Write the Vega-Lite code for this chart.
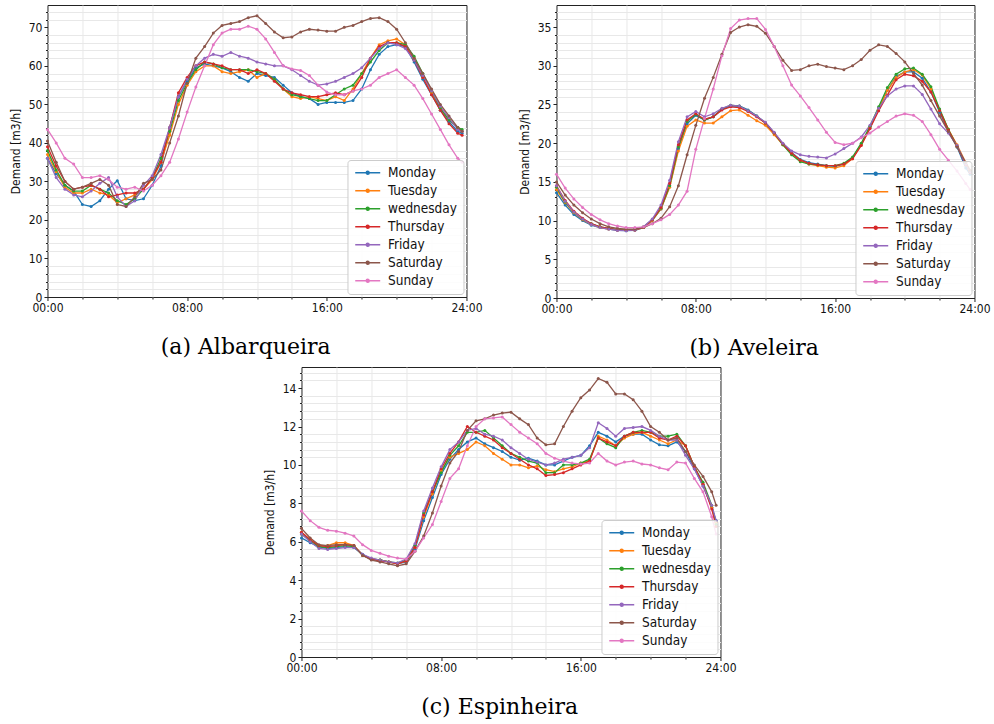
{
"$schema": "https://vega.github.io/schema/vega-lite/v6.json",
"padding": {"left": 8, "top": 4, "right": 2, "bottom": 2},
"config": {
  "font": "DejaVu Sans Condensed, DejaVu Sans, sans-serif",
  "view": {"stroke": "#222222", "strokeWidth": 1},
  "axis": {"domain": false, "labelFontSize": 12, "labelColor": "#111111", "tickColor": "#222222", "titleFontSize": 12, "titleFontWeight": "normal", "titleColor": "#111111", "gridColor": "#9c9c9c", "gridWidth": 1, "labelFlush": false, "labelOverlap": false, "labelPadding": 2, "tickSize": 3.5, "titlePadding": 6},
  "legend": {"orient": "bottom-right", "offset": 3, "padding": 6, "fillColor": "rgba(255,255,255,0.85)", "strokeColor": "#cccccc", "cornerRadius": 3, "labelFontSize": 13.5, "labelColor": "#111111", "rowPadding": 3, "symbolType": "M-1,0H4M1.2,0A0.3,0.3,0,1,0,1.8,0A0.3,0.3,0,1,0,1.2,0", "symbolSize": 100, "symbolStrokeWidth": 1.5, "labelOffset": 21},
  "title": {"font": "DejaVu Serif", "fontSize": 22, "fontWeight": "normal", "color": "#000000", "orient": "bottom", "offset": 23, "frame": "bounds"}
},
"datasets": {
"a": [
{"d":"Monday","t":0,"v":36},{"d":"Monday","t":0.5,"v":32},{"d":"Monday","t":1,"v":29},{"d":"Monday","t":1.5,"v":27.5},{"d":"Monday","t":2,"v":24},{"d":"Monday","t":2.5,"v":23.5},{"d":"Monday","t":3,"v":25},{"d":"Monday","t":3.5,"v":28},{"d":"Monday","t":4,"v":30.2},{"d":"Monday","t":4.5,"v":25.5},
{"d":"Monday","t":5,"v":25},{"d":"Monday","t":5.5,"v":25.5},{"d":"Monday","t":6,"v":29},{"d":"Monday","t":6.5,"v":34},{"d":"Monday","t":7,"v":44},{"d":"Monday","t":7.5,"v":52},{"d":"Monday","t":8,"v":56},{"d":"Monday","t":8.5,"v":59.5},{"d":"Monday","t":9,"v":60.5},{"d":"Monday","t":9.5,"v":60},
{"d":"Monday","t":10,"v":59.5},{"d":"Monday","t":10.5,"v":58.5},{"d":"Monday","t":11,"v":57},{"d":"Monday","t":11.5,"v":56},{"d":"Monday","t":12,"v":58},{"d":"Monday","t":12.5,"v":57.5},{"d":"Monday","t":13,"v":57},{"d":"Monday","t":13.5,"v":55},{"d":"Monday","t":14,"v":53},{"d":"Monday","t":14.5,"v":52},
{"d":"Monday","t":15,"v":51.5},{"d":"Monday","t":15.5,"v":50},{"d":"Monday","t":16,"v":50.5},{"d":"Monday","t":16.5,"v":50.5},{"d":"Monday","t":17,"v":50.5},{"d":"Monday","t":17.5,"v":51},{"d":"Monday","t":18,"v":54},{"d":"Monday","t":18.5,"v":59},{"d":"Monday","t":19,"v":63},{"d":"Monday","t":19.5,"v":65},
{"d":"Monday","t":20,"v":65.5},{"d":"Monday","t":20.5,"v":65},{"d":"Monday","t":21,"v":61},{"d":"Monday","t":21.5,"v":56.5},{"d":"Monday","t":22,"v":52.5},{"d":"Monday","t":22.5,"v":48.5},{"d":"Monday","t":23,"v":45.5},{"d":"Monday","t":23.5,"v":43},{"d":"Monday","t":23.75,"v":42.5},
{"d":"Tuesday","t":0,"v":37},{"d":"Tuesday","t":0.5,"v":32.5},{"d":"Tuesday","t":1,"v":28.5},{"d":"Tuesday","t":1.5,"v":27},{"d":"Tuesday","t":2,"v":27},{"d":"Tuesday","t":2.5,"v":28},{"d":"Tuesday","t":3,"v":27},{"d":"Tuesday","t":3.5,"v":26.5},{"d":"Tuesday","t":4,"v":24.5},{"d":"Tuesday","t":4.5,"v":25.5},
{"d":"Tuesday","t":5,"v":26.5},{"d":"Tuesday","t":5.5,"v":28},{"d":"Tuesday","t":6,"v":30.5},{"d":"Tuesday","t":6.5,"v":35},{"d":"Tuesday","t":7,"v":42},{"d":"Tuesday","t":7.5,"v":50},{"d":"Tuesday","t":8,"v":55},{"d":"Tuesday","t":8.5,"v":58.5},{"d":"Tuesday","t":9,"v":60},{"d":"Tuesday","t":9.5,"v":60},
{"d":"Tuesday","t":10,"v":58.5},{"d":"Tuesday","t":10.5,"v":58},{"d":"Tuesday","t":11,"v":58.5},{"d":"Tuesday","t":11.5,"v":59},{"d":"Tuesday","t":12,"v":57},{"d":"Tuesday","t":12.5,"v":58},{"d":"Tuesday","t":13,"v":56.5},{"d":"Tuesday","t":13.5,"v":54},{"d":"Tuesday","t":14,"v":52},{"d":"Tuesday","t":14.5,"v":51.5},
{"d":"Tuesday","t":15,"v":52},{"d":"Tuesday","t":15.5,"v":51.5},{"d":"Tuesday","t":16,"v":51},{"d":"Tuesday","t":16.5,"v":52},{"d":"Tuesday","t":17,"v":51},{"d":"Tuesday","t":17.5,"v":54},{"d":"Tuesday","t":18,"v":58},{"d":"Tuesday","t":18.5,"v":62},{"d":"Tuesday","t":19,"v":65.5},{"d":"Tuesday","t":19.5,"v":66.5},
{"d":"Tuesday","t":20,"v":67},{"d":"Tuesday","t":20.5,"v":65.5},{"d":"Tuesday","t":21,"v":62},{"d":"Tuesday","t":21.5,"v":57},{"d":"Tuesday","t":22,"v":53},{"d":"Tuesday","t":22.5,"v":49},{"d":"Tuesday","t":23,"v":46},{"d":"Tuesday","t":23.5,"v":44},{"d":"Tuesday","t":23.75,"v":43},
{"d":"wednesday","t":0,"v":38},{"d":"wednesday","t":0.5,"v":33},{"d":"wednesday","t":1,"v":29},{"d":"wednesday","t":1.5,"v":27.5},{"d":"wednesday","t":2,"v":27.5},{"d":"wednesday","t":2.5,"v":29},{"d":"wednesday","t":3,"v":28},{"d":"wednesday","t":3.5,"v":27},{"d":"wednesday","t":4,"v":25},{"d":"wednesday","t":4.5,"v":24},
{"d":"wednesday","t":5,"v":25.5},{"d":"wednesday","t":5.5,"v":28},{"d":"wednesday","t":6,"v":31},{"d":"wednesday","t":6.5,"v":36},{"d":"wednesday","t":7,"v":43},{"d":"wednesday","t":7.5,"v":51},{"d":"wednesday","t":8,"v":55.5},{"d":"wednesday","t":8.5,"v":59},{"d":"wednesday","t":9,"v":61},{"d":"wednesday","t":9.5,"v":60.5},
{"d":"wednesday","t":10,"v":59.5},{"d":"wednesday","t":10.5,"v":59},{"d":"wednesday","t":11,"v":59},{"d":"wednesday","t":11.5,"v":59},{"d":"wednesday","t":12,"v":58.5},{"d":"wednesday","t":12.5,"v":58},{"d":"wednesday","t":13,"v":56.5},{"d":"wednesday","t":13.5,"v":54},{"d":"wednesday","t":14,"v":52.5},{"d":"wednesday","t":14.5,"v":52},
{"d":"wednesday","t":15,"v":51.5},{"d":"wednesday","t":15.5,"v":51},{"d":"wednesday","t":16,"v":51},{"d":"wednesday","t":16.5,"v":52.5},{"d":"wednesday","t":17,"v":54},{"d":"wednesday","t":17.5,"v":55},{"d":"wednesday","t":18,"v":58},{"d":"wednesday","t":18.5,"v":61},{"d":"wednesday","t":19,"v":64},{"d":"wednesday","t":19.5,"v":66},
{"d":"wednesday","t":20,"v":66},{"d":"wednesday","t":20.5,"v":65.5},{"d":"wednesday","t":21,"v":62.5},{"d":"wednesday","t":21.5,"v":58},{"d":"wednesday","t":22,"v":53.5},{"d":"wednesday","t":22.5,"v":49},{"d":"wednesday","t":23,"v":46},{"d":"wednesday","t":23.5,"v":44},{"d":"wednesday","t":23.75,"v":43.5},
{"d":"Thursday","t":0,"v":39},{"d":"Thursday","t":0.5,"v":34},{"d":"Thursday","t":1,"v":30},{"d":"Thursday","t":1.5,"v":28},{"d":"Thursday","t":2,"v":28.5},{"d":"Thursday","t":2.5,"v":29},{"d":"Thursday","t":3,"v":28},{"d":"Thursday","t":3.5,"v":26},{"d":"Thursday","t":4,"v":26.5},{"d":"Thursday","t":4.5,"v":27},
{"d":"Thursday","t":5,"v":27},{"d":"Thursday","t":5.5,"v":28},{"d":"Thursday","t":6,"v":31},{"d":"Thursday","t":6.5,"v":35},{"d":"Thursday","t":7,"v":44},{"d":"Thursday","t":7.5,"v":53},{"d":"Thursday","t":8,"v":57},{"d":"Thursday","t":8.5,"v":60},{"d":"Thursday","t":9,"v":61},{"d":"Thursday","t":9.5,"v":60.5},
{"d":"Thursday","t":10,"v":60},{"d":"Thursday","t":10.5,"v":59},{"d":"Thursday","t":11,"v":59},{"d":"Thursday","t":11.5,"v":58},{"d":"Thursday","t":12,"v":59},{"d":"Thursday","t":12.5,"v":58},{"d":"Thursday","t":13,"v":56},{"d":"Thursday","t":13.5,"v":54},{"d":"Thursday","t":14,"v":53},{"d":"Thursday","t":14.5,"v":52.5},
{"d":"Thursday","t":15,"v":52},{"d":"Thursday","t":15.5,"v":52},{"d":"Thursday","t":16,"v":52.5},{"d":"Thursday","t":16.5,"v":53},{"d":"Thursday","t":17,"v":52.5},{"d":"Thursday","t":17.5,"v":53.5},{"d":"Thursday","t":18,"v":57},{"d":"Thursday","t":18.5,"v":62},{"d":"Thursday","t":19,"v":65},{"d":"Thursday","t":19.5,"v":66},
{"d":"Thursday","t":20,"v":66},{"d":"Thursday","t":20.5,"v":65},{"d":"Thursday","t":21,"v":61.5},{"d":"Thursday","t":21.5,"v":57},{"d":"Thursday","t":22,"v":52.5},{"d":"Thursday","t":22.5,"v":48.5},{"d":"Thursday","t":23,"v":45},{"d":"Thursday","t":23.5,"v":42.5},{"d":"Thursday","t":23.75,"v":42},
{"d":"Friday","t":0,"v":36},{"d":"Friday","t":0.5,"v":31},{"d":"Friday","t":1,"v":28},{"d":"Friday","t":1.5,"v":26.5},{"d":"Friday","t":2,"v":26},{"d":"Friday","t":2.5,"v":27.5},{"d":"Friday","t":3,"v":29.5},{"d":"Friday","t":3.5,"v":31},{"d":"Friday","t":4,"v":26},{"d":"Friday","t":4.5,"v":23.5},
{"d":"Friday","t":5,"v":25},{"d":"Friday","t":5.5,"v":29},{"d":"Friday","t":6,"v":31.5},{"d":"Friday","t":6.5,"v":37},{"d":"Friday","t":7,"v":44},{"d":"Friday","t":7.5,"v":52},{"d":"Friday","t":8,"v":56.5},{"d":"Friday","t":8.5,"v":60},{"d":"Friday","t":9,"v":62},{"d":"Friday","t":9.5,"v":63},
{"d":"Friday","t":10,"v":62.5},{"d":"Friday","t":10.5,"v":63.5},{"d":"Friday","t":11,"v":62.5},{"d":"Friday","t":11.5,"v":62},{"d":"Friday","t":12,"v":61},{"d":"Friday","t":12.5,"v":60.5},{"d":"Friday","t":13,"v":60},{"d":"Friday","t":13.5,"v":60},{"d":"Friday","t":14,"v":59},{"d":"Friday","t":14.5,"v":57.5},
{"d":"Friday","t":15,"v":56},{"d":"Friday","t":15.5,"v":55},{"d":"Friday","t":16,"v":55.3},{"d":"Friday","t":16.5,"v":56},{"d":"Friday","t":17,"v":57},{"d":"Friday","t":17.5,"v":58},{"d":"Friday","t":18,"v":59.5},{"d":"Friday","t":18.5,"v":62},{"d":"Friday","t":19,"v":64.5},{"d":"Friday","t":19.5,"v":66},
{"d":"Friday","t":20,"v":65.5},{"d":"Friday","t":20.5,"v":64.5},{"d":"Friday","t":21,"v":61.5},{"d":"Friday","t":21.5,"v":57.5},{"d":"Friday","t":22,"v":53.5},{"d":"Friday","t":22.5,"v":49.5},{"d":"Friday","t":23,"v":46.5},{"d":"Friday","t":23.5,"v":43.5},{"d":"Friday","t":23.75,"v":43},
{"d":"Saturday","t":0,"v":40.5},{"d":"Saturday","t":0.5,"v":35},{"d":"Saturday","t":1,"v":30},{"d":"Saturday","t":1.5,"v":28},{"d":"Saturday","t":2,"v":28.5},{"d":"Saturday","t":2.5,"v":29.5},{"d":"Saturday","t":3,"v":30.5},{"d":"Saturday","t":3.5,"v":29},{"d":"Saturday","t":4,"v":24},{"d":"Saturday","t":4.5,"v":23.5},
{"d":"Saturday","t":5,"v":26},{"d":"Saturday","t":5.5,"v":29.5},{"d":"Saturday","t":6,"v":30.5},{"d":"Saturday","t":6.5,"v":33},{"d":"Saturday","t":7,"v":40},{"d":"Saturday","t":7.5,"v":47},{"d":"Saturday","t":8,"v":55.5},{"d":"Saturday","t":8.5,"v":62},{"d":"Saturday","t":9,"v":65},{"d":"Saturday","t":9.5,"v":68.5},
{"d":"Saturday","t":10,"v":70.5},{"d":"Saturday","t":10.5,"v":71},{"d":"Saturday","t":11,"v":71.5},{"d":"Saturday","t":11.5,"v":72.5},{"d":"Saturday","t":12,"v":73},{"d":"Saturday","t":12.5,"v":71},{"d":"Saturday","t":13,"v":68.8},{"d":"Saturday","t":13.5,"v":67.3},{"d":"Saturday","t":14,"v":67.5},{"d":"Saturday","t":14.5,"v":68.8},
{"d":"Saturday","t":15,"v":69.5},{"d":"Saturday","t":15.5,"v":69.3},{"d":"Saturday","t":16,"v":69},{"d":"Saturday","t":16.5,"v":69},{"d":"Saturday","t":17,"v":70},{"d":"Saturday","t":17.5,"v":70.5},{"d":"Saturday","t":18,"v":71.5},{"d":"Saturday","t":18.5,"v":72.3},{"d":"Saturday","t":19,"v":72.5},{"d":"Saturday","t":19.5,"v":71.5},
{"d":"Saturday","t":20,"v":69.5},{"d":"Saturday","t":20.5,"v":66},{"d":"Saturday","t":21,"v":62},{"d":"Saturday","t":21.5,"v":58},{"d":"Saturday","t":22,"v":54},{"d":"Saturday","t":22.5,"v":50},{"d":"Saturday","t":23,"v":47},{"d":"Saturday","t":23.5,"v":44},{"d":"Saturday","t":23.75,"v":43},
{"d":"Sunday","t":0,"v":43.5},{"d":"Sunday","t":0.5,"v":40},{"d":"Sunday","t":1,"v":36},{"d":"Sunday","t":1.5,"v":34.5},{"d":"Sunday","t":2,"v":31},{"d":"Sunday","t":2.5,"v":31},{"d":"Sunday","t":3,"v":31.5},{"d":"Sunday","t":3.5,"v":30.5},{"d":"Sunday","t":4,"v":28.5},{"d":"Sunday","t":4.5,"v":28},
{"d":"Sunday","t":5,"v":28.5},{"d":"Sunday","t":5.5,"v":27.5},{"d":"Sunday","t":6,"v":29},{"d":"Sunday","t":6.5,"v":31.5},{"d":"Sunday","t":7,"v":35},{"d":"Sunday","t":7.5,"v":41},{"d":"Sunday","t":8,"v":48},{"d":"Sunday","t":8.5,"v":54.5},{"d":"Sunday","t":9,"v":60},{"d":"Sunday","t":9.5,"v":65.5},
{"d":"Sunday","t":10,"v":68.5},{"d":"Sunday","t":10.5,"v":69.5},{"d":"Sunday","t":11,"v":69.5},{"d":"Sunday","t":11.5,"v":70.3},{"d":"Sunday","t":12,"v":69.5},{"d":"Sunday","t":12.5,"v":67},{"d":"Sunday","t":13,"v":63.5},{"d":"Sunday","t":13.5,"v":60},{"d":"Sunday","t":14,"v":59.2},{"d":"Sunday","t":14.5,"v":58.8},
{"d":"Sunday","t":15,"v":57.5},{"d":"Sunday","t":15.5,"v":55},{"d":"Sunday","t":16,"v":53.2},{"d":"Sunday","t":16.5,"v":52.5},{"d":"Sunday","t":17,"v":52.5},{"d":"Sunday","t":17.5,"v":53.5},{"d":"Sunday","t":18,"v":54},{"d":"Sunday","t":18.5,"v":55},{"d":"Sunday","t":19,"v":57},{"d":"Sunday","t":19.5,"v":58},
{"d":"Sunday","t":20,"v":59},{"d":"Sunday","t":20.5,"v":57},{"d":"Sunday","t":21,"v":55},{"d":"Sunday","t":21.5,"v":51.5},{"d":"Sunday","t":22,"v":47.5},{"d":"Sunday","t":22.5,"v":43.5},{"d":"Sunday","t":23,"v":39.5},{"d":"Sunday","t":23.5,"v":36},{"d":"Sunday","t":23.75,"v":35}
],
"b": [
{"d":"Monday","t":0,"v":13.6},{"d":"Monday","t":0.5,"v":12},{"d":"Monday","t":1,"v":10.8},{"d":"Monday","t":1.5,"v":10},{"d":"Monday","t":2,"v":9.4},{"d":"Monday","t":2.5,"v":9.1},{"d":"Monday","t":3,"v":8.9},{"d":"Monday","t":3.5,"v":8.75},{"d":"Monday","t":4,"v":8.7},{"d":"Monday","t":4.5,"v":8.75},
{"d":"Monday","t":5,"v":9.1},{"d":"Monday","t":5.5,"v":10},{"d":"Monday","t":6,"v":11.5},{"d":"Monday","t":6.5,"v":14.5},{"d":"Monday","t":7,"v":19.3},{"d":"Monday","t":7.5,"v":22.5},{"d":"Monday","t":8,"v":23.6},{"d":"Monday","t":8.5,"v":23},{"d":"Monday","t":9,"v":23.4},{"d":"Monday","t":9.5,"v":24.4},
{"d":"Monday","t":10,"v":24.8},{"d":"Monday","t":10.5,"v":24.8},{"d":"Monday","t":11,"v":24.3},{"d":"Monday","t":11.5,"v":23.5},{"d":"Monday","t":12,"v":22.6},{"d":"Monday","t":12.5,"v":21.3},{"d":"Monday","t":13,"v":19.9},{"d":"Monday","t":13.5,"v":18.8},{"d":"Monday","t":14,"v":17.9},{"d":"Monday","t":14.5,"v":17.5},
{"d":"Monday","t":15,"v":17.3},{"d":"Monday","t":15.5,"v":17.1},{"d":"Monday","t":16,"v":17},{"d":"Monday","t":16.5,"v":17.3},{"d":"Monday","t":17,"v":18.1},{"d":"Monday","t":17.5,"v":19.9},{"d":"Monday","t":18,"v":22},{"d":"Monday","t":18.5,"v":24.5},{"d":"Monday","t":19,"v":26.8},{"d":"Monday","t":19.5,"v":28.6},
{"d":"Monday","t":20,"v":29.2},{"d":"Monday","t":20.5,"v":29.2},{"d":"Monday","t":21,"v":28.4},{"d":"Monday","t":21.5,"v":26.6},{"d":"Monday","t":22,"v":24},{"d":"Monday","t":22.5,"v":21.5},{"d":"Monday","t":23,"v":19.5},{"d":"Monday","t":23.5,"v":16.8},{"d":"Monday","t":23.75,"v":16},
{"d":"Tuesday","t":0,"v":14},{"d":"Tuesday","t":0.5,"v":12.3},{"d":"Tuesday","t":1,"v":11},{"d":"Tuesday","t":1.5,"v":10.1},{"d":"Tuesday","t":2,"v":9.5},{"d":"Tuesday","t":2.5,"v":9.1},{"d":"Tuesday","t":3,"v":8.9},{"d":"Tuesday","t":3.5,"v":8.8},{"d":"Tuesday","t":4,"v":8.75},{"d":"Tuesday","t":4.5,"v":8.8},
{"d":"Tuesday","t":5,"v":9.1},{"d":"Tuesday","t":5.5,"v":10},{"d":"Tuesday","t":6,"v":11.5},{"d":"Tuesday","t":6.5,"v":14.3},{"d":"Tuesday","t":7,"v":19},{"d":"Tuesday","t":7.5,"v":22.2},{"d":"Tuesday","t":8,"v":23},{"d":"Tuesday","t":8.5,"v":22.6},{"d":"Tuesday","t":9,"v":22.6},{"d":"Tuesday","t":9.5,"v":23.4},
{"d":"Tuesday","t":10,"v":24.2},{"d":"Tuesday","t":10.5,"v":24.3},{"d":"Tuesday","t":11,"v":23.6},{"d":"Tuesday","t":11.5,"v":22.9},{"d":"Tuesday","t":12,"v":22.3},{"d":"Tuesday","t":12.5,"v":21.1},{"d":"Tuesday","t":13,"v":19.8},{"d":"Tuesday","t":13.5,"v":18.7},{"d":"Tuesday","t":14,"v":17.8},{"d":"Tuesday","t":14.5,"v":17.3},
{"d":"Tuesday","t":15,"v":17.1},{"d":"Tuesday","t":15.5,"v":16.9},{"d":"Tuesday","t":16,"v":16.8},{"d":"Tuesday","t":16.5,"v":17.1},{"d":"Tuesday","t":17,"v":18},{"d":"Tuesday","t":17.5,"v":19.8},{"d":"Tuesday","t":18,"v":22},{"d":"Tuesday","t":18.5,"v":24.4},{"d":"Tuesday","t":19,"v":26.8},{"d":"Tuesday","t":19.5,"v":28.5},
{"d":"Tuesday","t":20,"v":29.2},{"d":"Tuesday","t":20.5,"v":29.5},{"d":"Tuesday","t":21,"v":28.8},{"d":"Tuesday","t":21.5,"v":27},{"d":"Tuesday","t":22,"v":24.3},{"d":"Tuesday","t":22.5,"v":21.8},{"d":"Tuesday","t":23,"v":19.8},{"d":"Tuesday","t":23.5,"v":17.5},{"d":"Tuesday","t":23.75,"v":16.5},
{"d":"wednesday","t":0,"v":14.3},{"d":"wednesday","t":0.5,"v":12.4},{"d":"wednesday","t":1,"v":11.1},{"d":"wednesday","t":1.5,"v":10.2},{"d":"wednesday","t":2,"v":9.6},{"d":"wednesday","t":2.5,"v":9.2},{"d":"wednesday","t":3,"v":9},{"d":"wednesday","t":3.5,"v":8.85},{"d":"wednesday","t":4,"v":8.8},{"d":"wednesday","t":4.5,"v":8.85},
{"d":"wednesday","t":5,"v":9.2},{"d":"wednesday","t":5.5,"v":10.1},{"d":"wednesday","t":6,"v":11.6},{"d":"wednesday","t":6.5,"v":14.5},{"d":"wednesday","t":7,"v":19.5},{"d":"wednesday","t":7.5,"v":22.8},{"d":"wednesday","t":8,"v":23.7},{"d":"wednesday","t":8.5,"v":23},{"d":"wednesday","t":9,"v":23.4},{"d":"wednesday","t":9.5,"v":24.4},
{"d":"wednesday","t":10,"v":24.9},{"d":"wednesday","t":10.5,"v":24.8},{"d":"wednesday","t":11,"v":24.2},{"d":"wednesday","t":11.5,"v":23.5},{"d":"wednesday","t":12,"v":22.6},{"d":"wednesday","t":12.5,"v":21.3},{"d":"wednesday","t":13,"v":19.8},{"d":"wednesday","t":13.5,"v":18.5},{"d":"wednesday","t":14,"v":17.6},{"d":"wednesday","t":14.5,"v":17.3},
{"d":"wednesday","t":15,"v":17.2},{"d":"wednesday","t":15.5,"v":17.1},{"d":"wednesday","t":16,"v":17.1},{"d":"wednesday","t":16.5,"v":17.4},{"d":"wednesday","t":17,"v":18.2},{"d":"wednesday","t":17.5,"v":20},{"d":"wednesday","t":18,"v":22.2},{"d":"wednesday","t":18.5,"v":24.7},{"d":"wednesday","t":19,"v":27.2},{"d":"wednesday","t":19.5,"v":28.9},
{"d":"wednesday","t":20,"v":29.6},{"d":"wednesday","t":20.5,"v":29.7},{"d":"wednesday","t":21,"v":28.9},{"d":"wednesday","t":21.5,"v":27.3},{"d":"wednesday","t":22,"v":24.4},{"d":"wednesday","t":22.5,"v":21.8},{"d":"wednesday","t":23,"v":19.6},{"d":"wednesday","t":23.5,"v":17.3},{"d":"wednesday","t":23.75,"v":16.3},
{"d":"Thursday","t":0,"v":14.5},{"d":"Thursday","t":0.5,"v":12.6},{"d":"Thursday","t":1,"v":11.2},{"d":"Thursday","t":1.5,"v":10.3},{"d":"Thursday","t":2,"v":9.6},{"d":"Thursday","t":2.5,"v":9.2},{"d":"Thursday","t":3,"v":9},{"d":"Thursday","t":3.5,"v":8.8},{"d":"Thursday","t":4,"v":8.75},{"d":"Thursday","t":4.5,"v":8.8},
{"d":"Thursday","t":5,"v":9.15},{"d":"Thursday","t":5.5,"v":10.1},{"d":"Thursday","t":6,"v":11.7},{"d":"Thursday","t":6.5,"v":14.8},{"d":"Thursday","t":7,"v":19.8},{"d":"Thursday","t":7.5,"v":23},{"d":"Thursday","t":8,"v":23.8},{"d":"Thursday","t":8.5,"v":23.1},{"d":"Thursday","t":9,"v":23.4},{"d":"Thursday","t":9.5,"v":24.3},
{"d":"Thursday","t":10,"v":24.7},{"d":"Thursday","t":10.5,"v":24.6},{"d":"Thursday","t":11,"v":24.1},{"d":"Thursday","t":11.5,"v":23.4},{"d":"Thursday","t":12,"v":22.6},{"d":"Thursday","t":12.5,"v":21.3},{"d":"Thursday","t":13,"v":19.9},{"d":"Thursday","t":13.5,"v":18.7},{"d":"Thursday","t":14,"v":17.8},{"d":"Thursday","t":14.5,"v":17.4},
{"d":"Thursday","t":15,"v":17.2},{"d":"Thursday","t":15.5,"v":17.1},{"d":"Thursday","t":16,"v":17.1},{"d":"Thursday","t":16.5,"v":17.3},{"d":"Thursday","t":17,"v":18},{"d":"Thursday","t":17.5,"v":19.7},{"d":"Thursday","t":18,"v":21.9},{"d":"Thursday","t":18.5,"v":24.2},{"d":"Thursday","t":19,"v":26.2},{"d":"Thursday","t":19.5,"v":28.2},
{"d":"Thursday","t":20,"v":28.9},{"d":"Thursday","t":20.5,"v":28.7},{"d":"Thursday","t":21,"v":28},{"d":"Thursday","t":21.5,"v":26.6},{"d":"Thursday","t":22,"v":24.2},{"d":"Thursday","t":22.5,"v":21.7},{"d":"Thursday","t":23,"v":19.6},{"d":"Thursday","t":23.5,"v":17.2},{"d":"Thursday","t":23.75,"v":16.2},
{"d":"Friday","t":0,"v":14.5},{"d":"Friday","t":0.5,"v":12.5},{"d":"Friday","t":1,"v":11.1},{"d":"Friday","t":1.5,"v":10.2},{"d":"Friday","t":2,"v":9.5},{"d":"Friday","t":2.5,"v":9.1},{"d":"Friday","t":3,"v":8.9},{"d":"Friday","t":3.5,"v":8.75},{"d":"Friday","t":4,"v":8.7},{"d":"Friday","t":4.5,"v":8.8},
{"d":"Friday","t":5,"v":9.2},{"d":"Friday","t":5.5,"v":10.2},{"d":"Friday","t":6,"v":12},{"d":"Friday","t":6.5,"v":15.2},{"d":"Friday","t":7,"v":20.2},{"d":"Friday","t":7.5,"v":23.4},{"d":"Friday","t":8,"v":24.1},{"d":"Friday","t":8.5,"v":23.4},{"d":"Friday","t":9,"v":23.8},{"d":"Friday","t":9.5,"v":24.5},
{"d":"Friday","t":10,"v":24.9},{"d":"Friday","t":10.5,"v":24.8},{"d":"Friday","t":11,"v":24.2},{"d":"Friday","t":11.5,"v":23.5},{"d":"Friday","t":12,"v":22.7},{"d":"Friday","t":12.5,"v":21.4},{"d":"Friday","t":13,"v":20},{"d":"Friday","t":13.5,"v":19},{"d":"Friday","t":14,"v":18.5},{"d":"Friday","t":14.5,"v":18.3},
{"d":"Friday","t":15,"v":18.2},{"d":"Friday","t":15.5,"v":18.1},{"d":"Friday","t":16,"v":18.6},{"d":"Friday","t":16.5,"v":19.3},{"d":"Friday","t":17,"v":20},{"d":"Friday","t":17.5,"v":20.8},{"d":"Friday","t":18,"v":22.3},{"d":"Friday","t":18.5,"v":24.5},{"d":"Friday","t":19,"v":26.1},{"d":"Friday","t":19.5,"v":27},
{"d":"Friday","t":20,"v":27.4},{"d":"Friday","t":20.5,"v":27.4},{"d":"Friday","t":21,"v":26.3},{"d":"Friday","t":21.5,"v":24.4},{"d":"Friday","t":22,"v":22.5},{"d":"Friday","t":22.5,"v":21.3},{"d":"Friday","t":23,"v":19.7},{"d":"Friday","t":23.5,"v":17.3},{"d":"Friday","t":23.75,"v":16.3},
{"d":"Saturday","t":0,"v":15},{"d":"Saturday","t":0.5,"v":13.3},{"d":"Saturday","t":1,"v":12},{"d":"Saturday","t":1.5,"v":11},{"d":"Saturday","t":2,"v":10.2},{"d":"Saturday","t":2.5,"v":9.6},{"d":"Saturday","t":3,"v":9.2},{"d":"Saturday","t":3.5,"v":9},{"d":"Saturday","t":4,"v":8.9},{"d":"Saturday","t":4.5,"v":8.9},
{"d":"Saturday","t":5,"v":9.1},{"d":"Saturday","t":5.5,"v":9.6},{"d":"Saturday","t":6,"v":10.3},{"d":"Saturday","t":6.5,"v":11.8},{"d":"Saturday","t":7,"v":14.5},{"d":"Saturday","t":7.5,"v":18.5},{"d":"Saturday","t":8,"v":22.3},{"d":"Saturday","t":8.5,"v":25.8},{"d":"Saturday","t":9,"v":28.5},{"d":"Saturday","t":9.5,"v":31.5},
{"d":"Saturday","t":10,"v":34.3},{"d":"Saturday","t":10.5,"v":35},{"d":"Saturday","t":11,"v":35.3},{"d":"Saturday","t":11.5,"v":35.1},{"d":"Saturday","t":12,"v":34.2},{"d":"Saturday","t":12.5,"v":32.5},{"d":"Saturday","t":13,"v":30.7},{"d":"Saturday","t":13.5,"v":29.4},{"d":"Saturday","t":14,"v":29.5},{"d":"Saturday","t":14.5,"v":30},
{"d":"Saturday","t":15,"v":30.2},{"d":"Saturday","t":15.5,"v":29.9},{"d":"Saturday","t":16,"v":29.7},{"d":"Saturday","t":16.5,"v":29.5},{"d":"Saturday","t":17,"v":30},{"d":"Saturday","t":17.5,"v":30.8},{"d":"Saturday","t":18,"v":32},{"d":"Saturday","t":18.5,"v":32.7},{"d":"Saturday","t":19,"v":32.5},{"d":"Saturday","t":19.5,"v":31.6},
{"d":"Saturday","t":20,"v":30.5},{"d":"Saturday","t":20.5,"v":29},{"d":"Saturday","t":21,"v":27.5},{"d":"Saturday","t":21.5,"v":25.5},{"d":"Saturday","t":22,"v":23.5},{"d":"Saturday","t":22.5,"v":21.5},{"d":"Saturday","t":23,"v":19.5},{"d":"Saturday","t":23.5,"v":17.5},{"d":"Saturday","t":23.75,"v":16.5},
{"d":"Sunday","t":0,"v":16},{"d":"Sunday","t":0.5,"v":14.2},{"d":"Sunday","t":1,"v":12.8},{"d":"Sunday","t":1.5,"v":11.7},{"d":"Sunday","t":2,"v":10.8},{"d":"Sunday","t":2.5,"v":10.1},{"d":"Sunday","t":3,"v":9.6},{"d":"Sunday","t":3.5,"v":9.3},{"d":"Sunday","t":4,"v":9.1},{"d":"Sunday","t":4.5,"v":9.1},
{"d":"Sunday","t":5,"v":9.2},{"d":"Sunday","t":5.5,"v":9.6},{"d":"Sunday","t":6,"v":10.1},{"d":"Sunday","t":6.5,"v":10.8},{"d":"Sunday","t":7,"v":12},{"d":"Sunday","t":7.5,"v":13.8},{"d":"Sunday","t":8,"v":19.2},{"d":"Sunday","t":8.5,"v":23.2},{"d":"Sunday","t":9,"v":27},{"d":"Sunday","t":9.5,"v":31.3},
{"d":"Sunday","t":10,"v":34.8},{"d":"Sunday","t":10.5,"v":35.9},{"d":"Sunday","t":11,"v":36.1},{"d":"Sunday","t":11.5,"v":36.1},{"d":"Sunday","t":12,"v":34.7},{"d":"Sunday","t":12.5,"v":32.5},{"d":"Sunday","t":13,"v":30},{"d":"Sunday","t":13.5,"v":27.5},{"d":"Sunday","t":14,"v":26.1},{"d":"Sunday","t":14.5,"v":24.6},
{"d":"Sunday","t":15,"v":23},{"d":"Sunday","t":15.5,"v":21.4},{"d":"Sunday","t":16,"v":20.1},{"d":"Sunday","t":16.5,"v":19.8},{"d":"Sunday","t":17,"v":20},{"d":"Sunday","t":17.5,"v":20.7},{"d":"Sunday","t":18,"v":21.3},{"d":"Sunday","t":18.5,"v":22.1},{"d":"Sunday","t":19,"v":22.8},{"d":"Sunday","t":19.5,"v":23.5},
{"d":"Sunday","t":20,"v":23.8},{"d":"Sunday","t":20.5,"v":23.6},{"d":"Sunday","t":21,"v":22.8},{"d":"Sunday","t":21.5,"v":21.1},{"d":"Sunday","t":22,"v":19.2},{"d":"Sunday","t":22.5,"v":17.8},{"d":"Sunday","t":23,"v":16.4},{"d":"Sunday","t":23.5,"v":14.8},{"d":"Sunday","t":23.75,"v":14}
],
"c": [
{"d":"Monday","t":0,"v":6.2},{"d":"Monday","t":0.5,"v":5.95},{"d":"Monday","t":1,"v":5.75},{"d":"Monday","t":1.5,"v":5.65},{"d":"Monday","t":2,"v":5.7},{"d":"Monday","t":2.5,"v":5.75},{"d":"Monday","t":3,"v":5.7},{"d":"Monday","t":3.5,"v":5.35},{"d":"Monday","t":4,"v":5.1},{"d":"Monday","t":4.5,"v":5.05},
{"d":"Monday","t":5,"v":4.95},{"d":"Monday","t":5.5,"v":4.85},{"d":"Monday","t":6,"v":4.95},{"d":"Monday","t":6.5,"v":5.6},{"d":"Monday","t":7,"v":7.1},{"d":"Monday","t":7.5,"v":8.3},{"d":"Monday","t":8,"v":9.5},{"d":"Monday","t":8.5,"v":10.3},{"d":"Monday","t":9,"v":10.8},{"d":"Monday","t":9.5,"v":11.2},
{"d":"Monday","t":10,"v":11.4},{"d":"Monday","t":10.5,"v":11.1},{"d":"Monday","t":11,"v":10.9},{"d":"Monday","t":11.5,"v":10.7},{"d":"Monday","t":12,"v":10.4},{"d":"Monday","t":12.5,"v":10.25},{"d":"Monday","t":13,"v":10.35},{"d":"Monday","t":13.5,"v":10.2},{"d":"Monday","t":14,"v":10},{"d":"Monday","t":14.5,"v":10},
{"d":"Monday","t":15,"v":10.2},{"d":"Monday","t":15.5,"v":10.4},{"d":"Monday","t":16,"v":10.5},{"d":"Monday","t":16.5,"v":11},{"d":"Monday","t":17,"v":11.7},{"d":"Monday","t":17.5,"v":11.5},{"d":"Monday","t":18,"v":11.2},{"d":"Monday","t":18.5,"v":11.5},{"d":"Monday","t":19,"v":11.6},{"d":"Monday","t":19.5,"v":11.6},
{"d":"Monday","t":20,"v":11.3},{"d":"Monday","t":20.5,"v":11.05},{"d":"Monday","t":21,"v":11},{"d":"Monday","t":21.5,"v":11.2},{"d":"Monday","t":22,"v":10.7},{"d":"Monday","t":22.5,"v":9.8},{"d":"Monday","t":23,"v":8.9},{"d":"Monday","t":23.5,"v":7.8},{"d":"Monday","t":23.75,"v":7.1},
{"d":"Tuesday","t":0,"v":6.5},{"d":"Tuesday","t":0.5,"v":6.1},{"d":"Tuesday","t":1,"v":5.8},{"d":"Tuesday","t":1.5,"v":5.8},{"d":"Tuesday","t":2,"v":5.95},{"d":"Tuesday","t":2.5,"v":5.95},{"d":"Tuesday","t":3,"v":5.8},{"d":"Tuesday","t":3.5,"v":5.3},{"d":"Tuesday","t":4,"v":5.1},{"d":"Tuesday","t":4.5,"v":5.05},
{"d":"Tuesday","t":5,"v":4.95},{"d":"Tuesday","t":5.5,"v":4.85},{"d":"Tuesday","t":6,"v":5},{"d":"Tuesday","t":6.5,"v":5.7},{"d":"Tuesday","t":7,"v":7.3},{"d":"Tuesday","t":7.5,"v":8.5},{"d":"Tuesday","t":8,"v":9.7},{"d":"Tuesday","t":8.5,"v":10.4},{"d":"Tuesday","t":9,"v":10.6},{"d":"Tuesday","t":9.5,"v":10.8},
{"d":"Tuesday","t":10,"v":11.2},{"d":"Tuesday","t":10.5,"v":11},{"d":"Tuesday","t":11,"v":10.6},{"d":"Tuesday","t":11.5,"v":10.3},{"d":"Tuesday","t":12,"v":10},{"d":"Tuesday","t":12.5,"v":10},{"d":"Tuesday","t":13,"v":9.85},{"d":"Tuesday","t":13.5,"v":9.95},{"d":"Tuesday","t":14,"v":9.75},{"d":"Tuesday","t":14.5,"v":9.65},
{"d":"Tuesday","t":15,"v":9.8},{"d":"Tuesday","t":15.5,"v":9.9},{"d":"Tuesday","t":16,"v":10.1},{"d":"Tuesday","t":16.5,"v":10.2},{"d":"Tuesday","t":17,"v":11.5},{"d":"Tuesday","t":17.5,"v":11.3},{"d":"Tuesday","t":18,"v":11},{"d":"Tuesday","t":18.5,"v":11.4},{"d":"Tuesday","t":19,"v":11.6},{"d":"Tuesday","t":19.5,"v":11.7},
{"d":"Tuesday","t":20,"v":11.5},{"d":"Tuesday","t":20.5,"v":11.3},{"d":"Tuesday","t":21,"v":11.1},{"d":"Tuesday","t":21.5,"v":11.3},{"d":"Tuesday","t":22,"v":11},{"d":"Tuesday","t":22.5,"v":9.9},{"d":"Tuesday","t":23,"v":9},{"d":"Tuesday","t":23.5,"v":7.8},{"d":"Tuesday","t":23.75,"v":7},
{"d":"wednesday","t":0,"v":6.4},{"d":"wednesday","t":0.5,"v":6.05},{"d":"wednesday","t":1,"v":5.75},{"d":"wednesday","t":1.5,"v":5.7},{"d":"wednesday","t":2,"v":5.75},{"d":"wednesday","t":2.5,"v":5.8},{"d":"wednesday","t":3,"v":5.75},{"d":"wednesday","t":3.5,"v":5.3},{"d":"wednesday","t":4,"v":5.1},{"d":"wednesday","t":4.5,"v":5.05},
{"d":"wednesday","t":5,"v":4.95},{"d":"wednesday","t":5.5,"v":4.9},{"d":"wednesday","t":6,"v":5.05},{"d":"wednesday","t":6.5,"v":5.8},{"d":"wednesday","t":7,"v":7.5},{"d":"wednesday","t":7.5,"v":8.6},{"d":"wednesday","t":8,"v":9.6},{"d":"wednesday","t":8.5,"v":10.5},{"d":"wednesday","t":9,"v":11},{"d":"wednesday","t":9.5,"v":11.7},
{"d":"wednesday","t":10,"v":11.7},{"d":"wednesday","t":10.5,"v":11.8},{"d":"wednesday","t":11,"v":11.4},{"d":"wednesday","t":11.5,"v":11},{"d":"wednesday","t":12,"v":10.6},{"d":"wednesday","t":12.5,"v":10.4},{"d":"wednesday","t":13,"v":10.2},{"d":"wednesday","t":13.5,"v":10.1},{"d":"wednesday","t":14,"v":9.6},{"d":"wednesday","t":14.5,"v":9.6},
{"d":"wednesday","t":15,"v":10},{"d":"wednesday","t":15.5,"v":10},{"d":"wednesday","t":16,"v":10.1},{"d":"wednesday","t":16.5,"v":10.3},{"d":"wednesday","t":17,"v":11.4},{"d":"wednesday","t":17.5,"v":11.1},{"d":"wednesday","t":18,"v":10.9},{"d":"wednesday","t":18.5,"v":11.5},{"d":"wednesday","t":19,"v":11.7},{"d":"wednesday","t":19.5,"v":11.8},
{"d":"wednesday","t":20,"v":11.7},{"d":"wednesday","t":20.5,"v":11.5},{"d":"wednesday","t":21,"v":11.5},{"d":"wednesday","t":21.5,"v":11.6},{"d":"wednesday","t":22,"v":11},{"d":"wednesday","t":22.5,"v":9.9},{"d":"wednesday","t":23,"v":9.1},{"d":"wednesday","t":23.5,"v":7.9},{"d":"wednesday","t":23.75,"v":6.9},
{"d":"Thursday","t":0,"v":6.5},{"d":"Thursday","t":0.5,"v":6.1},{"d":"Thursday","t":1,"v":5.8},{"d":"Thursday","t":1.5,"v":5.75},{"d":"Thursday","t":2,"v":5.8},{"d":"Thursday","t":2.5,"v":5.85},{"d":"Thursday","t":3,"v":5.8},{"d":"Thursday","t":3.5,"v":5.3},{"d":"Thursday","t":4,"v":5.1},{"d":"Thursday","t":4.5,"v":5},
{"d":"Thursday","t":5,"v":4.95},{"d":"Thursday","t":5.5,"v":4.85},{"d":"Thursday","t":6,"v":5},{"d":"Thursday","t":6.5,"v":5.7},{"d":"Thursday","t":7,"v":7.4},{"d":"Thursday","t":7.5,"v":8.6},{"d":"Thursday","t":8,"v":9.8},{"d":"Thursday","t":8.5,"v":10.6},{"d":"Thursday","t":9,"v":11.2},{"d":"Thursday","t":9.5,"v":12},
{"d":"Thursday","t":10,"v":11.7},{"d":"Thursday","t":10.5,"v":11.5},{"d":"Thursday","t":11,"v":11.3},{"d":"Thursday","t":11.5,"v":10.9},{"d":"Thursday","t":12,"v":10.6},{"d":"Thursday","t":12.5,"v":10.3},{"d":"Thursday","t":13,"v":10},{"d":"Thursday","t":13.5,"v":9.8},{"d":"Thursday","t":14,"v":9.45},{"d":"Thursday","t":14.5,"v":9.5},
{"d":"Thursday","t":15,"v":9.6},{"d":"Thursday","t":15.5,"v":9.8},{"d":"Thursday","t":16,"v":10},{"d":"Thursday","t":16.5,"v":10.2},{"d":"Thursday","t":17,"v":11.4},{"d":"Thursday","t":17.5,"v":11.2},{"d":"Thursday","t":18,"v":11},{"d":"Thursday","t":18.5,"v":11.5},{"d":"Thursday","t":19,"v":11.7},{"d":"Thursday","t":19.5,"v":11.7},
{"d":"Thursday","t":20,"v":11.7},{"d":"Thursday","t":20.5,"v":11.4},{"d":"Thursday","t":21,"v":11.3},{"d":"Thursday","t":21.5,"v":11.5},{"d":"Thursday","t":22,"v":11},{"d":"Thursday","t":22.5,"v":9.9},{"d":"Thursday","t":23,"v":9},{"d":"Thursday","t":23.5,"v":7.7},{"d":"Thursday","t":23.75,"v":6.8},
{"d":"Friday","t":0,"v":6.4},{"d":"Friday","t":0.5,"v":6},{"d":"Friday","t":1,"v":5.65},{"d":"Friday","t":1.5,"v":5.6},{"d":"Friday","t":2,"v":5.65},{"d":"Friday","t":2.5,"v":5.7},{"d":"Friday","t":3,"v":5.7},{"d":"Friday","t":3.5,"v":5.35},{"d":"Friday","t":4,"v":5.15},{"d":"Friday","t":4.5,"v":5.05},
{"d":"Friday","t":5,"v":4.95},{"d":"Friday","t":5.5,"v":4.9},{"d":"Friday","t":6,"v":5.1},{"d":"Friday","t":6.5,"v":5.9},{"d":"Friday","t":7,"v":7.6},{"d":"Friday","t":7.5,"v":8.8},{"d":"Friday","t":8,"v":9.9},{"d":"Friday","t":8.5,"v":10.8},{"d":"Friday","t":9,"v":11.2},{"d":"Friday","t":9.5,"v":11.8},
{"d":"Friday","t":10,"v":11.9},{"d":"Friday","t":10.5,"v":11.6},{"d":"Friday","t":11,"v":11.5},{"d":"Friday","t":11.5,"v":11.3},{"d":"Friday","t":12,"v":10.9},{"d":"Friday","t":12.5,"v":10.6},{"d":"Friday","t":13,"v":10.3},{"d":"Friday","t":13.5,"v":10.15},{"d":"Friday","t":14,"v":10},{"d":"Friday","t":14.5,"v":10.1},
{"d":"Friday","t":15,"v":10.3},{"d":"Friday","t":15.5,"v":10.4},{"d":"Friday","t":16,"v":10.5},{"d":"Friday","t":16.5,"v":10.9},{"d":"Friday","t":17,"v":12.2},{"d":"Friday","t":17.5,"v":11.9},{"d":"Friday","t":18,"v":11.5},{"d":"Friday","t":18.5,"v":11.9},{"d":"Friday","t":19,"v":11.95},{"d":"Friday","t":19.5,"v":12},
{"d":"Friday","t":20,"v":11.8},{"d":"Friday","t":20.5,"v":11.5},{"d":"Friday","t":21,"v":11.3},{"d":"Friday","t":21.5,"v":11.3},{"d":"Friday","t":22,"v":10.5},{"d":"Friday","t":22.5,"v":9.8},{"d":"Friday","t":23,"v":8.9},{"d":"Friday","t":23.5,"v":7.9},{"d":"Friday","t":23.75,"v":7.1},
{"d":"Saturday","t":0,"v":6.7},{"d":"Saturday","t":0.5,"v":6.2},{"d":"Saturday","t":1,"v":5.85},{"d":"Saturday","t":1.5,"v":5.8},{"d":"Saturday","t":2,"v":5.85},{"d":"Saturday","t":2.5,"v":5.85},{"d":"Saturday","t":3,"v":5.8},{"d":"Saturday","t":3.5,"v":5.3},{"d":"Saturday","t":4,"v":5.05},{"d":"Saturday","t":4.5,"v":4.95},
{"d":"Saturday","t":5,"v":4.85},{"d":"Saturday","t":5.5,"v":4.75},{"d":"Saturday","t":6,"v":4.85},{"d":"Saturday","t":6.5,"v":5.5},{"d":"Saturday","t":7,"v":6.3},{"d":"Saturday","t":7.5,"v":7.5},{"d":"Saturday","t":8,"v":8.9},{"d":"Saturday","t":8.5,"v":10.1},{"d":"Saturday","t":9,"v":10.7},{"d":"Saturday","t":9.5,"v":11.8},
{"d":"Saturday","t":10,"v":12.3},{"d":"Saturday","t":10.5,"v":12.4},{"d":"Saturday","t":11,"v":12.6},{"d":"Saturday","t":11.5,"v":12.7},{"d":"Saturday","t":12,"v":12.75},{"d":"Saturday","t":12.5,"v":12.4},{"d":"Saturday","t":13,"v":12.1},{"d":"Saturday","t":13.5,"v":11.4},{"d":"Saturday","t":14,"v":11.05},{"d":"Saturday","t":14.5,"v":11.1},
{"d":"Saturday","t":15,"v":12},{"d":"Saturday","t":15.5,"v":12.8},{"d":"Saturday","t":16,"v":13.5},{"d":"Saturday","t":16.5,"v":13.9},{"d":"Saturday","t":17,"v":14.5},{"d":"Saturday","t":17.5,"v":14.3},{"d":"Saturday","t":18,"v":13.7},{"d":"Saturday","t":18.5,"v":13.7},{"d":"Saturday","t":19,"v":13.4},{"d":"Saturday","t":19.5,"v":12.8},
{"d":"Saturday","t":20,"v":12},{"d":"Saturday","t":20.5,"v":11.7},{"d":"Saturday","t":21,"v":11.3},{"d":"Saturday","t":21.5,"v":11.4},{"d":"Saturday","t":22,"v":10.7},{"d":"Saturday","t":22.5,"v":10},{"d":"Saturday","t":23,"v":9.4},{"d":"Saturday","t":23.5,"v":8.6},{"d":"Saturday","t":23.75,"v":7.9},
{"d":"Sunday","t":0,"v":7.6},{"d":"Sunday","t":0.5,"v":7.1},{"d":"Sunday","t":1,"v":6.75},{"d":"Sunday","t":1.5,"v":6.6},{"d":"Sunday","t":2,"v":6.55},{"d":"Sunday","t":2.5,"v":6.45},{"d":"Sunday","t":3,"v":6.3},{"d":"Sunday","t":3.5,"v":5.85},{"d":"Sunday","t":4,"v":5.55},{"d":"Sunday","t":4.5,"v":5.4},
{"d":"Sunday","t":5,"v":5.25},{"d":"Sunday","t":5.5,"v":5.15},{"d":"Sunday","t":6,"v":5.1},{"d":"Sunday","t":6.5,"v":5.5},{"d":"Sunday","t":7,"v":6.2},{"d":"Sunday","t":7.5,"v":6.9},{"d":"Sunday","t":8,"v":8.1},{"d":"Sunday","t":8.5,"v":9.3},{"d":"Sunday","t":9,"v":9.8},{"d":"Sunday","t":9.5,"v":11},
{"d":"Sunday","t":10,"v":12},{"d":"Sunday","t":10.5,"v":12.4},{"d":"Sunday","t":11,"v":12.45},{"d":"Sunday","t":11.5,"v":12.5},{"d":"Sunday","t":12,"v":12.1},{"d":"Sunday","t":12.5,"v":11.7},{"d":"Sunday","t":13,"v":11.4},{"d":"Sunday","t":13.5,"v":11.1},{"d":"Sunday","t":14,"v":10.6},{"d":"Sunday","t":14.5,"v":10.35},
{"d":"Sunday","t":15,"v":10.2},{"d":"Sunday","t":15.5,"v":10.1},{"d":"Sunday","t":16,"v":10.05},{"d":"Sunday","t":16.5,"v":10.1},{"d":"Sunday","t":17,"v":10.6},{"d":"Sunday","t":17.5,"v":10.2},{"d":"Sunday","t":18,"v":10},{"d":"Sunday","t":18.5,"v":10.15},{"d":"Sunday","t":19,"v":10.2},{"d":"Sunday","t":19.5,"v":10.05},
{"d":"Sunday","t":20,"v":10},{"d":"Sunday","t":20.5,"v":9.85},{"d":"Sunday","t":21,"v":9.75},{"d":"Sunday","t":21.5,"v":10.15},{"d":"Sunday","t":22,"v":10.1},{"d":"Sunday","t":22.5,"v":9.3},{"d":"Sunday","t":23,"v":8.6},{"d":"Sunday","t":23.5,"v":7.3},{"d":"Sunday","t":23.75,"v":6.4}
]
},
"vconcat": [
 {
  "hconcat": [
   {
    "data": {"name": "a"},
    "width": 419, "height": 292,
    "title": {"text": "(a) Albarqueira", "orient": "bottom"},
    "layer": [
     {"mark": {"type": "line", "strokeWidth": 1.3},
      "encoding": {
       "x": {"field": "t", "type": "quantitative", "scale": {"domain": [0, 24], "nice": false}, "axis": {"orient": "bottom", "values": [2,4,6,10,12,14,18,20,22], "labels": false, "tickSize": 2, "gridColor": "#e8e8e8", "title": null}},
       "y": {"field": "v", "type": "quantitative", "scale": {"domain": [0, 75.8], "nice": false}, "axis": {"orient": "left", "values": [2,4,6,8,12,14,16,18,22,24,26,28,32,34,36,38,42,44,46,48,52,54,56,58,62,64,66,68,72,74], "labels": false, "tickSize": 2, "gridColor": "#e8e8e8", "title": null}},
       "color": {"field": "d", "type": "nominal", "scale": {"domain": ["Monday","Tuesday","wednesday","Thursday","Friday","Saturday","Sunday"], "range": ["#1f77b4","#ff7f0e","#2ca02c","#d62728","#9467bd","#8c564b","#e377c2"]}, "legend": {"title": null}}
      }},
     {"mark": {"type": "point", "filled": true, "size": 9, "opacity": 1},
      "encoding": {
       "x": {"field": "t", "type": "quantitative", "scale": {"domain": [0, 24], "nice": false}, "axis": {"orient": "bottom", "values": [0, 8, 16, 24], "labelExpr": "(datum.value < 10 ? '0' : '') + datum.value + ':00'", "title": null}},
       "y": {"field": "v", "type": "quantitative", "scale": {"domain": [0, 75.8], "nice": false}, "axis": {"orient": "left", "values": [0,10,20,30,40,50,60,70], "title": "Demand [m3/h]"}},
       "color": {"field": "d", "type": "nominal", "scale": {"domain": ["Monday","Tuesday","wednesday","Thursday","Friday","Saturday","Sunday"], "range": ["#1f77b4","#ff7f0e","#2ca02c","#d62728","#9467bd","#8c564b","#e377c2"]}, "legend": {"title": null}}
      }}
    ],
    "resolve": {"axis": {"x": "independent", "y": "independent"}}
   },
   {
    "data": {"name": "b"},
    "width": 418, "height": 293,
    "title": {"text": "(b) Aveleira", "orient": "bottom"},
    "layer": [
     {"mark": {"type": "line", "strokeWidth": 1.3},
      "encoding": {
       "x": {"field": "t", "type": "quantitative", "scale": {"domain": [0, 24], "nice": false}, "axis": {"orient": "bottom", "values": [2,4,6,10,12,14,18,20,22], "labels": false, "tickSize": 2, "gridColor": "#e8e8e8", "title": null}},
       "y": {"field": "v", "type": "quantitative", "scale": {"domain": [0, 37.85], "nice": false}, "axis": {"orient": "left", "values": [1,2,3,4,6,7,8,9,11,12,13,14,16,17,18,19,21,22,23,24,26,27,28,29,31,32,33,34,36,37], "labels": false, "tickSize": 2, "gridColor": "#e8e8e8", "title": null}},
       "color": {"field": "d", "type": "nominal", "scale": {"domain": ["Monday","Tuesday","wednesday","Thursday","Friday","Saturday","Sunday"], "range": ["#1f77b4","#ff7f0e","#2ca02c","#d62728","#9467bd","#8c564b","#e377c2"]}, "legend": {"title": null}}
      }},
     {"mark": {"type": "point", "filled": true, "size": 9, "opacity": 1},
      "encoding": {
       "x": {"field": "t", "type": "quantitative", "scale": {"domain": [0, 24], "nice": false}, "axis": {"orient": "bottom", "values": [0, 8, 16, 24], "labelExpr": "(datum.value < 10 ? '0' : '') + datum.value + ':00'", "title": null}},
       "y": {"field": "v", "type": "quantitative", "scale": {"domain": [0, 37.85], "nice": false}, "axis": {"orient": "left", "values": [0,5,10,15,20,25,30,35], "title": "Demand [m3/h]"}},
       "color": {"field": "d", "type": "nominal", "scale": {"domain": ["Monday","Tuesday","wednesday","Thursday","Friday","Saturday","Sunday"], "range": ["#1f77b4","#ff7f0e","#2ca02c","#d62728","#9467bd","#8c564b","#e377c2"]}, "legend": {"title": null}}
      }}
    ],
    "resolve": {"axis": {"x": "independent", "y": "independent"}}
   }
  ],
  "spacing": 34,
  "resolve": {"scale": {"color": "independent"}, "legend": {"color": "independent"}}
 },
 {
  "data": {"name": "c"},
  "width": 419, "height": 290,
  "title": {"text": "(c) Espinheira", "orient": "bottom"},
  "layer": [
   {"mark": {"type": "line", "strokeWidth": 1.3},
    "encoding": {
     "x": {"field": "t", "type": "quantitative", "scale": {"domain": [0, 24], "nice": false}, "axis": {"orient": "bottom", "values": [2,4,6,10,12,14,18,20,22], "labels": false, "tickSize": 2, "gridColor": "#e8e8e8", "title": null}},
     "y": {"field": "v", "type": "quantitative", "scale": {"domain": [0, 15.1], "nice": false}, "axis": {"orient": "left", "values": [0.4,0.8,1.2,1.6,2.4,2.8,3.2,3.6,4.4,4.8,5.2,5.6,6.4,6.8,7.2,7.6,8.4,8.8,9.2,9.6,10.4,10.8,11.2,11.6,12.4,12.8,13.2,13.6,14.4,14.8], "labels": false, "tickSize": 2, "gridColor": "#e8e8e8", "title": null}},
     "color": {"field": "d", "type": "nominal", "scale": {"domain": ["Monday","Tuesday","wednesday","Thursday","Friday","Saturday","Sunday"], "range": ["#1f77b4","#ff7f0e","#2ca02c","#d62728","#9467bd","#8c564b","#e377c2"]}, "legend": {"title": null}}
    }},
   {"mark": {"type": "point", "filled": true, "size": 9, "opacity": 1},
    "encoding": {
     "x": {"field": "t", "type": "quantitative", "scale": {"domain": [0, 24], "nice": false}, "axis": {"orient": "bottom", "values": [0, 8, 16, 24], "labelExpr": "(datum.value < 10 ? '0' : '') + datum.value + ':00'", "title": null}},
     "y": {"field": "v", "type": "quantitative", "scale": {"domain": [0, 15.1], "nice": false}, "axis": {"orient": "left", "values": [0,2,4,6,8,10,12,14], "title": "Demand [m3/h]"}},
     "color": {"field": "d", "type": "nominal", "scale": {"domain": ["Monday","Tuesday","wednesday","Thursday","Friday","Saturday","Sunday"], "range": ["#1f77b4","#ff7f0e","#2ca02c","#d62728","#9467bd","#8c564b","#e377c2"]}, "legend": {"title": null}}
    }}
  ],
  "resolve": {"axis": {"x": "independent", "y": "independent"}}
 }
],
"spacing": 7,
"center": true,
"resolve": {"scale": {"color": "independent"}, "legend": {"color": "independent"}}
}
